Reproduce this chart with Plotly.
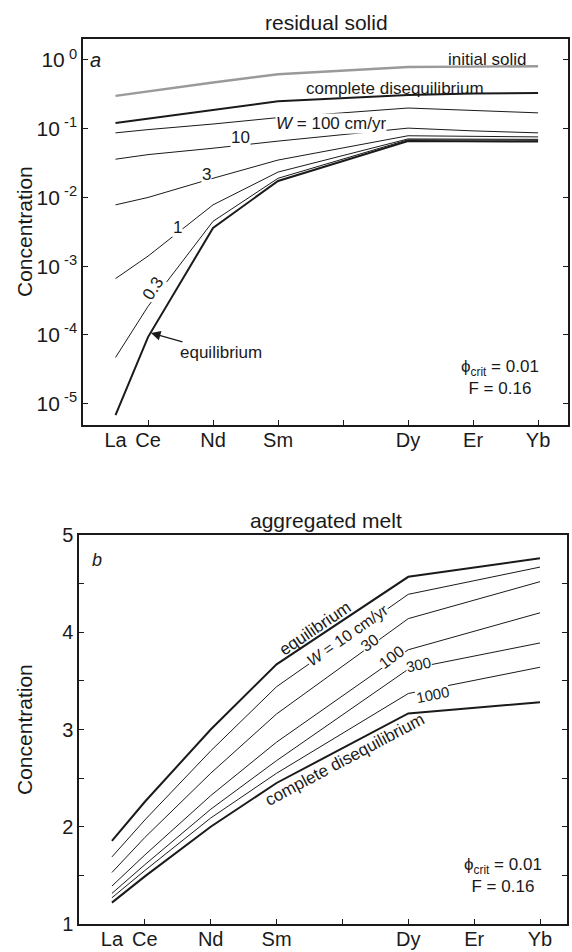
import plotly.graph_objects as go

# Rare earth elements, placed by atomic number
ree = ["La", "Ce", "Nd", "Sm", "Dy", "Er", "Yb"]
ree_z = [57, 58, 60, 62, 66, 68, 70]
axis_tick_z = [58, 60, 62, 64, 66, 68, 70]

# (a) residual solid concentrations
solid_initial = [0.30, 0.35, 0.47, 0.62, 0.79, 0.80, 0.81]
solid_diseq = [0.121, 0.14, 0.19, 0.25, 0.31, 0.325, 0.33]
solid_w100 = [0.087, 0.097, 0.117, 0.145, 0.20, 0.185, 0.17]
solid_w10 = [0.036, 0.042, 0.052, 0.066, 0.102, 0.093, 0.087]
solid_w3 = [0.0078, 0.010, 0.019, 0.035, 0.079, 0.077, 0.076]
solid_w1 = [6.6e-4, 1.4e-3, 7.8e-3, 0.0234, 0.071, 0.0705, 0.070]
solid_w03 = [4.7e-5, 2.6e-4, 4.5e-3, 0.019, 0.069, 0.0685, 0.068]
solid_eq = [6.8e-6, 9.3e-5, 3.6e-3, 0.0174, 0.066, 0.066, 0.065]

# (b) aggregated melt concentrations
melt_eq = [1.855, 2.257, 3.00, 3.67, 4.57, 4.665, 4.76]
melt_w10 = [1.69, 2.07, 2.78, 3.44, 4.39, 4.53, 4.67]
melt_w30 = [1.53, 1.89, 2.55, 3.16, 4.14, 4.33, 4.52]
melt_w100 = [1.39, 1.71, 2.32, 2.87, 3.82, 4.01, 4.20]
melt_w300 = [1.315, 1.61, 2.18, 2.68, 3.62, 3.755, 3.89]
melt_w1000 = [1.27, 1.55, 2.09, 2.55, 3.37, 3.505, 3.64]
melt_diseq = [1.22, 1.49, 2.00, 2.45, 3.165, 3.22, 3.28]

INK = "#1a1a1a"
FONT = "Liberation Sans, Arial, Helvetica, sans-serif"

fig = go.Figure()

top_series = [
    (solid_initial, "#9a9a9a", 2.4),
    (solid_diseq, INK, 2.0),
    (solid_w100, INK, 1.0),
    (solid_w10, INK, 1.0),
    (solid_w3, INK, 1.0),
    (solid_w1, INK, 1.0),
    (solid_w03, INK, 1.0),
    (solid_eq, INK, 2.0),
]
for ys, col, w in top_series:
    fig.add_trace(go.Scatter(x=ree_z, y=ys, mode="lines", xaxis="x", yaxis="y",
                             line=dict(color=col, width=w), showlegend=False,
                             hoverinfo="skip"))

bottom_series = [
    (melt_eq, 2.0), (melt_w10, 1.0), (melt_w30, 1.0), (melt_w100, 1.0),
    (melt_w300, 1.0), (melt_w1000, 1.0), (melt_diseq, 2.0),
]
for ys, w in bottom_series:
    fig.add_trace(go.Scatter(x=ree_z, y=ys, mode="lines", xaxis="x2", yaxis="y2",
                             line=dict(color=INK, width=w), showlegend=False,
                             hoverinfo="skip"))

tick_text = ["La", "Ce", "Nd", "Sm", "", "Dy", "Er", "Yb"]
xcommon = dict(
    tickmode="array", tickvals=[57] + axis_tick_z, ticktext=tick_text,
    ticks="", showgrid=False, zeroline=False, showline=True, mirror=True,
    automargin=False, linecolor=INK, linewidth=1.5, ticklabelstandoff=-4,
    tickfont=dict(size=20, color=INK, family=FONT),
    minor=dict(tickmode="array", tickvals=axis_tick_z, ticks="inside",
               ticklen=5, tickwidth=1, tickcolor=INK),
)

fig.update_layout(
    width=572, height=952,
    margin=dict(l=0, r=0, t=0, b=0, autoexpand=False),
    paper_bgcolor="white", plot_bgcolor="white",
    font=dict(family=FONT, color=INK),
    xaxis=dict(domain=[83 / 572, 568 / 572], range=[56, 70.92], anchor="y", **xcommon),
    xaxis2=dict(domain=[79 / 572, 567 / 572], range=[56, 70.82], anchor="y2", **xcommon),
    yaxis=dict(
        domain=[1 - 425 / 952, 1 - 39 / 952], type="log", range=[-5.31, 0.305],
        anchor="x", tickmode="array", automargin=False,
        tickvals=[1, 0.1, 0.01, 0.001, 1e-4, 1e-5],
        ticktext=["10<sup> 0</sup>", "10<sup> -1</sup>", "10<sup> -2</sup>",
                  "10<sup> -3</sup>", "10<sup> -4</sup>", "10<sup> -5</sup>"],
        ticks="inside", ticklen=5, tickwidth=1, tickcolor=INK,
        showgrid=False, zeroline=False, showline=True, mirror="ticks",
        linecolor=INK, linewidth=1.5,
        tickfont=dict(size=21, color=INK, family=FONT),
    ),
    yaxis2=dict(
        domain=[1 - 924 / 952, 1 - 535 / 952], range=[1, 5], anchor="x2",
        tickmode="array", tickvals=[1, 2, 3, 4, 5], automargin=False,
        ticks="inside", ticklen=5, tickwidth=1, tickcolor=INK,
        minor=dict(tickmode="array", tickvals=[1.5, 2.5, 3.5, 4.5], ticks="inside",
                   ticklen=5, tickwidth=1, tickcolor=INK),
        showgrid=False, zeroline=False, showline=True, mirror="ticks",
        linecolor=INK, linewidth=1.5,
        tickfont=dict(size=20, color=INK, family=FONT),
    ),
)

ann = []


def txt(text, x, y, xref, yref, size=17, angle=0, bg=None, **kw):
    d = dict(text=text, x=x, y=y, xref=xref, yref=yref, showarrow=False,
             xanchor="center", yanchor="middle",
             font=dict(size=size, color=INK, family=FONT), textangle=angle,
             borderpad=0, **kw)
    if bg:
        d["bgcolor"] = bg
    ann.append(d)


# Panel titles and axis titles
txt("residual solid", 326 / 572, 1 - 22 / 952, "paper", "paper", size=21)
txt("aggregated melt", 326 / 572, 1 - 520 / 952, "paper", "paper", size=21)
txt("Concentration", 24 / 572, 1 - 232 / 952, "paper", "paper", size=21, angle=-90)
txt("Concentration", 24 / 572, 1 - 730 / 952, "paper", "paper", size=21, angle=-90)

PHI_NOTE = "ϕ<sub>crit</sub> = 0.01<br>F = 0.16"

# (a) labels (log axis: y given as log10)
txt("<i>a</i>", 56.37, 0.0, "x", "y", size=20)
txt("initial solid", 68.43, 0.0, "x", "y", size=17)
txt("complete disequilibrium", 65.6, -0.41, "x", "y", size=17)
txt("<i>W</i> = 100 cm/yr", 63.63, -0.917, "x", "y", size=17, bg="white")
txt("10", 60.83, -1.135, "x", "y", size=17, bg="white")
txt("3", 59.8, -1.66, "x", "y", size=17, bg="white")
txt("1", 58.9, -2.43, "x", "y", size=17, bg="white")
txt("0.3", 58.15, -3.32, "x", "y", size=17, angle=-57, bg="white")
txt(PHI_NOTE, 68.83, -4.626, "x", "y", size=17)
ann.append(dict(text="equilibrium", x=58.09, y=-3.97, xref="x", yref="y",
                ax=70, ay=20, showarrow=True, arrowhead=2, arrowsize=1.6,
                arrowwidth=1.2, arrowcolor=INK, standoff=0,
                font=dict(size=17, color=INK, family=FONT)))

# (b) labels
txt("<i>b</i>", 56.55, 4.74, "x2", "y2", size=18)
txt("equilibrium", 63.17, 4.04, "x2", "y2", size=17, angle=-34)
txt("<i>W</i> = 10 cm/yr", 64.14, 3.97, "x2", "y2", size=16, angle=-35, bg="white")
txt("30", 64.84, 3.89, "x2", "y2", size=16, angle=-36, bg="white")
txt("100", 65.48, 3.745, "x2", "y2", size=16, angle=-37, bg="white")
txt("300", 66.30, 3.67, "x2", "y2", size=15, angle=-12, bg="white")
txt("1000", 66.75, 3.365, "x2", "y2", size=15, angle=-11, bg="white")
txt("complete disequilibrium", 64.08, 2.69, "x2", "y2", size=17, angle=-28)
txt(PHI_NOTE, 68.88, 1.50, "x2", "y2", size=17)

fig.update_layout(annotations=ann)
fig.write_html("out.html")
